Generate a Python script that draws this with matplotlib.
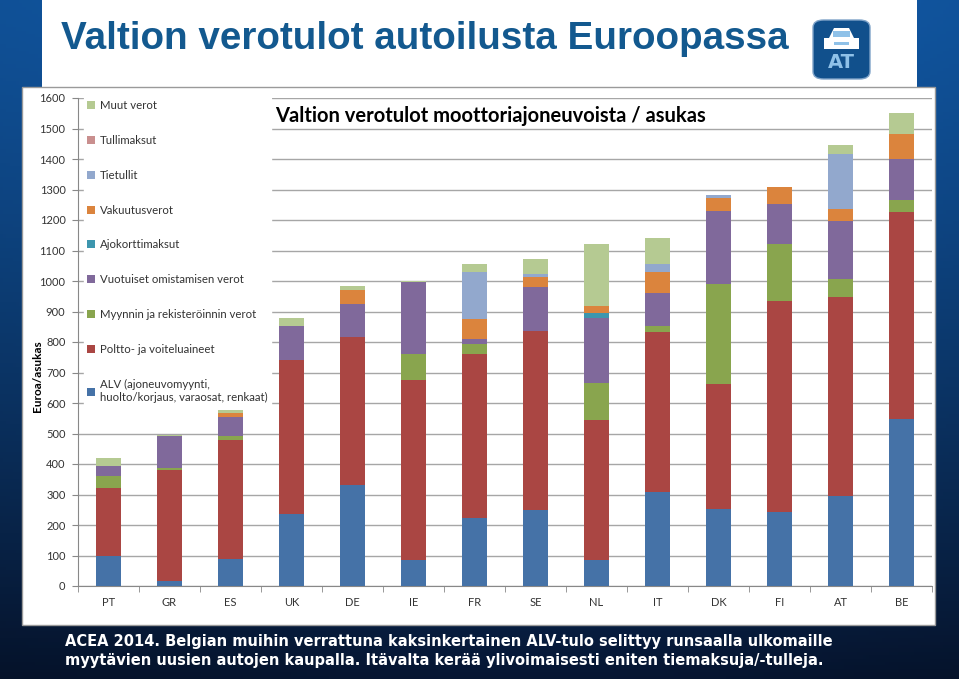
import numpy as np
import matplotlib
matplotlib.use('Agg')
import matplotlib.pyplot as plt
from matplotlib.patches import Rectangle, FancyBboxPatch, Polygon

# Data (Euroa/asukas)
countries = ['PT', 'GR', 'ES', 'UK', 'DE', 'IE', 'FR', 'SE', 'NL', 'IT', 'DK', 'FI', 'AT', 'BE']
alv = [100, 15, 87, 237, 330, 84, 222, 250, 86, 307, 251, 244, 295, 548]
poltto = [220, 365, 393, 505, 488, 593, 539, 585, 459, 527, 410, 692, 653, 677]
myynti = [40, 8, 13, 0, 0, 84, 34, 0, 120, 20, 330, 185, 58, 39]
vuotuiset = [35, 103, 62, 109, 105, 235, 15, 144, 214, 108, 237, 131, 191, 135]
ajokortti = [0, 0, 0, 0, 0, 0, 0, 0, 17, 0, 0, 0, 0, 0]
vakuutus = [0, 0, 13, 0, 48, 0, 66, 34, 22, 69, 45, 55, 40, 84]
tietullit = [0, 0, 0, 0, 0, 0, 154, 10, 0, 24, 8, 0, 178, 0]
tullimaksut = [0, 0, 0, 0, 0, 0, 0, 0, 0, 0, 0, 0, 0, 0]
muut = [25, 3, 8, 27, 14, 3, 27, 50, 202, 87, 2, 0, 32, 67]

series = [
    ('ALV (ajoneuvomyynti,\nhuolto/korjaus, varaosat, renkaat)', alv, '#4572A7'),
    ('Poltto- ja voiteluaineet', poltto, '#AA4643'),
    ('Myynnin ja rekisteröinnin verot', myynti, '#89A54E'),
    ('Vuotuiset omistamisen verot', vuotuiset, '#80699B'),
    ('Ajokorttimaksut', ajokortti, '#3D96AE'),
    ('Vakuutusverot', vakuutus, '#DB843D'),
    ('Tietullit', tietullit, '#92A8CD'),
    ('Tullimaksut', tullimaksut, '#C98F8E'),
    ('Muut verot', muut, '#B5CA92'),
]

W, H = 959, 679
fig = plt.figure(figsize=(W / 100, H / 100), dpi=100)

# slide background: dark blue gradient
bg = fig.add_axes([0, 0, 1, 1])
yy = np.linspace(0, 1, 200)[:, None]
xx = np.linspace(0, 1, 300)[None, :]
top = np.array([0.06, 0.31, 0.58])
bot = np.array([0.02, 0.07, 0.16])
t = yy ** 1.3
img = top[None, None, :] * (1 - t[..., None]) + bot[None, None, :] * t[..., None]
img = img * (1 + 0.25 * np.exp(-((xx - 0.55) / 0.35) ** 2))[..., None]
bg.imshow(np.clip(img, 0, 1), aspect='auto', extent=[0, 1, 0, 1], origin='upper')
bg.set_xlim(0, 1)
bg.set_ylim(0, 1)
bg.axis('off')


def fx(px):
    return px / W


def fy(py):
    return 1 - py / H


# white title panel
bg.add_patch(Rectangle((fx(42), fy(88)), fx(917) - fx(42), fy(0) - fy(88),
                       facecolor='white', edgecolor='none'))
bg.text(fx(61), fy(39), 'Valtion verotulot autoilusta Euroopassa',
        family='Liberation Sans', fontweight='bold',
        fontsize=27.8, color='#13598F', va='center', ha='left')

# logo
bg.add_patch(FancyBboxPatch((fx(813), fy(79)), fx(57), fy(0) - fy(59),
                            boxstyle='round,pad=0,rounding_size=0.011',
                            facecolor='#11508C', edgecolor='#7fa3c8', lw=1))
bg.add_patch(Polygon([(fx(829), fy(38)), (fx(834), fy(28)), (fx(849), fy(28)), (fx(854), fy(38))],
                     closed=True, facecolor='white', edgecolor='none'))
bg.add_patch(Rectangle((fx(824), fy(49)), fx(35), fy(38) - fy(49), facecolor='white', edgecolor='none'))
bg.add_patch(Rectangle((fx(833), fy(37)), fx(17), fy(31) - fy(37), facecolor='#8FC1E8', edgecolor='none'))
bg.add_patch(Rectangle((fx(834), fy(45)), fx(15), fy(42) - fy(45), facecolor='#8FC1E8', edgecolor='none'))
bg.text(fx(841.5), fy(63), 'AT', fontsize=14, fontweight='bold', color='#8FC1E8',
        ha='center', va='center', family='DejaVu Sans')

# chart picture panel
bg.add_patch(Rectangle((fx(22), fy(625)), fx(935) - fx(22), fy(87) - fy(625),
                       facecolor='white', edgecolor='#9a9a9a', lw=1))

# caption
caption = ('ACEA 2014. Belgian muihin verrattuna kaksinkertainen ALV-tulo selittyy runsaalla ulkomaille\n'
           'myytävien uusien autojen kaupalla. Itävalta kerää ylivoimaisesti eniten tiemaksuja/-tulleja.')
bg.text(fx(65), fy(651), caption, fontsize=10.5, fontweight='bold', color='white', ha='left',
        va='center', family='DejaVu Sans', linespacing=1.35)

# the chart
ax = fig.add_axes([fx(78), fy(586), fx(932) - fx(78), fy(98) - fy(586)])
ax.set_facecolor('white')
x = np.arange(len(countries))
bottom = np.zeros(len(countries))
handles = []
for label, vals, color in series:
    b = ax.bar(x, vals, 0.4, bottom=bottom, color=color, label=label, zorder=3)
    handles.append(b)
    bottom = bottom + np.array(vals)

ax.set_xlim(-0.5, len(countries) - 0.5)
ax.set_ylim(0, 1600)
ax.set_yticks(np.arange(0, 1601, 100))
ax.set_xticks(x)
ax.set_xticklabels(countries)
ax.set_xticks(np.arange(-0.5, len(countries), 1), minor=True)
ax.tick_params(axis='x', which='major', length=0, pad=8, labelsize=8, labelcolor='#333333')
ax.tick_params(axis='x', which='minor', length=4, color='#888888')
ax.tick_params(axis='y', length=4, color='#888888', labelsize=8, labelcolor='#333333', pad=5)
for lab in ax.get_xticklabels() + ax.get_yticklabels():
    lab.set_family('Lato')
ax.grid(axis='y', color='#a6a6a6', lw=1, zorder=0)
for s in ['top', 'right']:
    ax.spines[s].set_visible(False)
for s in ['left', 'bottom']:
    ax.spines[s].set_color('#888888')

ax.set_ylabel('Euroa/asukas', fontsize=8.5, fontweight='bold', family='Lato')
ax.yaxis.set_label_coords(-0.041, 0.43)

ax.text(0.231, 0.964, 'Valtion verotulot moottoriajoneuvoista / asukas', transform=ax.transAxes,
        fontsize=14.5, fontweight='bold', family='Lato', ha='left', va='center', color='black')

leg = ax.legend(handles[::-1], [s[0] for s in series[::-1]], loc='upper left',
                bbox_to_anchor=(0.0, 1.015), frameon=True, facecolor='white', edgecolor='white',
                framealpha=1, labelspacing=2.1, handlelength=0.7,
                handleheight=0.7, handletextpad=0.4, borderpad=0.3,
                prop={'family': 'Lato', 'size': 8.2})
leg.set_zorder(5)
for txt in leg.get_texts():
    txt.set_color('#333333')

fig.savefig('out.png', dpi=100)
